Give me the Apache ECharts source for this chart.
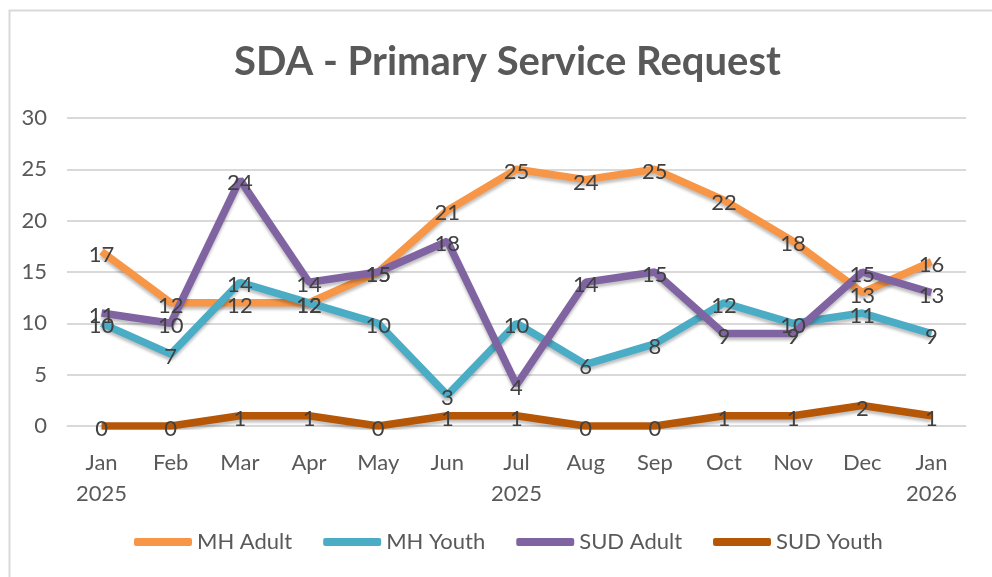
<!DOCTYPE html>
<html><head><meta charset="utf-8">
<script src="https://cdn.jsdelivr.net/npm/echarts@6/dist/echarts.min.js"></script>
<style>html,body{margin:0;padding:0;background:#fff}#c{width:992px;height:577px}</style>
</head><body><div id="c"></div>
<script>
var categories = ['Jan\n2025','Feb','Mar','Apr','May','Jun','Jul\n2025','Aug','Sep','Oct','Nov','Dec','Jan\n2026'];
var mhAdult  = [17,12,12,12,15,21,25,24,25,22,18,13,16];
var mhYouth  = [10,7,14,12,10,3,10,6,8,12,10,11,9];
var sudAdult = [11,10,24,14,15,18,4,14,15,9,9,15,13];
var sudYouth = [0,0,1,1,0,1,1,0,0,1,1,2,1];
var seriesNames = ['MH Adult','MH Youth','SUD Adult','SUD Youth'];
var colors = ['#F79646','#4BACC6','#8064A2','#B65708'];
var yTicks = [0,5,10,15,20,25,30];

var FONT = "Lato, 'Open Sans', sans-serif";
var chart = echarts.init(document.getElementById('c'));
function mk(name, data, color){
  return {
    name: name, type: 'line', data: data,
    symbol: 'circle', symbolSize: 0.1, showSymbol: true,
    itemStyle: {color: color},
    lineStyle: {width: 7.5, color: color, shadowColor: 'rgba(0,0,0,0.25)', shadowBlur: 3, shadowOffsetY: 3},
    label: {show: true, position: 'inside', offset: [0, 3], color: '#404040', fontSize: 22, fontFamily: FONT},
    emphasis: {disabled: true},
    animation: false
  };
}
chart.setOption({
  animation: false,
  color: colors,
  title: {text: 'SDA - Primary Service Request', left: 229, top: 37,
    textStyle: {fontSize: 40, fontWeight: 'bold', color: '#595959', fontFamily: FONT}},
  graphic: [{type: 'rect', shape: {x: 9.5, y: 10.5, width: 1000, height: 600},
    style: {fill: 'none', stroke: '#D9D9D9', lineWidth: 2}, z: -1}],
  grid: {left: 67, right: 26, top: 118, bottom: 151},
  legend: {top: 526, left: 129, itemWidth: 58, itemHeight: 8, itemGap: 31,
    icon: 'roundRect',
    textStyle: {fontSize: 22, color: '#595959', fontFamily: FONT},
    data: seriesNames},
  xAxis: {type: 'category', data: categories, boundaryGap: true,
    axisLine: {show: true, lineStyle: {color: '#D9D9D9', width: 1}},
    axisTick: {show: false},
    axisLabel: {fontSize: 22, color: '#595959', fontFamily: FONT, margin: 21, lineHeight: 31, interval: 0}},
  yAxis: {type: 'value', min: 0, max: 30, interval: 5,
    axisLine: {show: false}, axisTick: {show: false},
    splitLine: {lineStyle: {color: '#D9D9D9', width: 2}},
    axisLabel: {fontSize: 22, color: '#595959', fontFamily: FONT, margin: 20,
      formatter: function(v){ return yTicks.indexOf(v) >= 0 ? String(v) : ''; }}},
  series: [
    mk(seriesNames[0], mhAdult, colors[0]),
    mk(seriesNames[1], mhYouth, colors[1]),
    mk(seriesNames[2], sudAdult, colors[2]),
    mk(seriesNames[3], sudYouth, colors[3])
  ]
});
</script></body></html>
